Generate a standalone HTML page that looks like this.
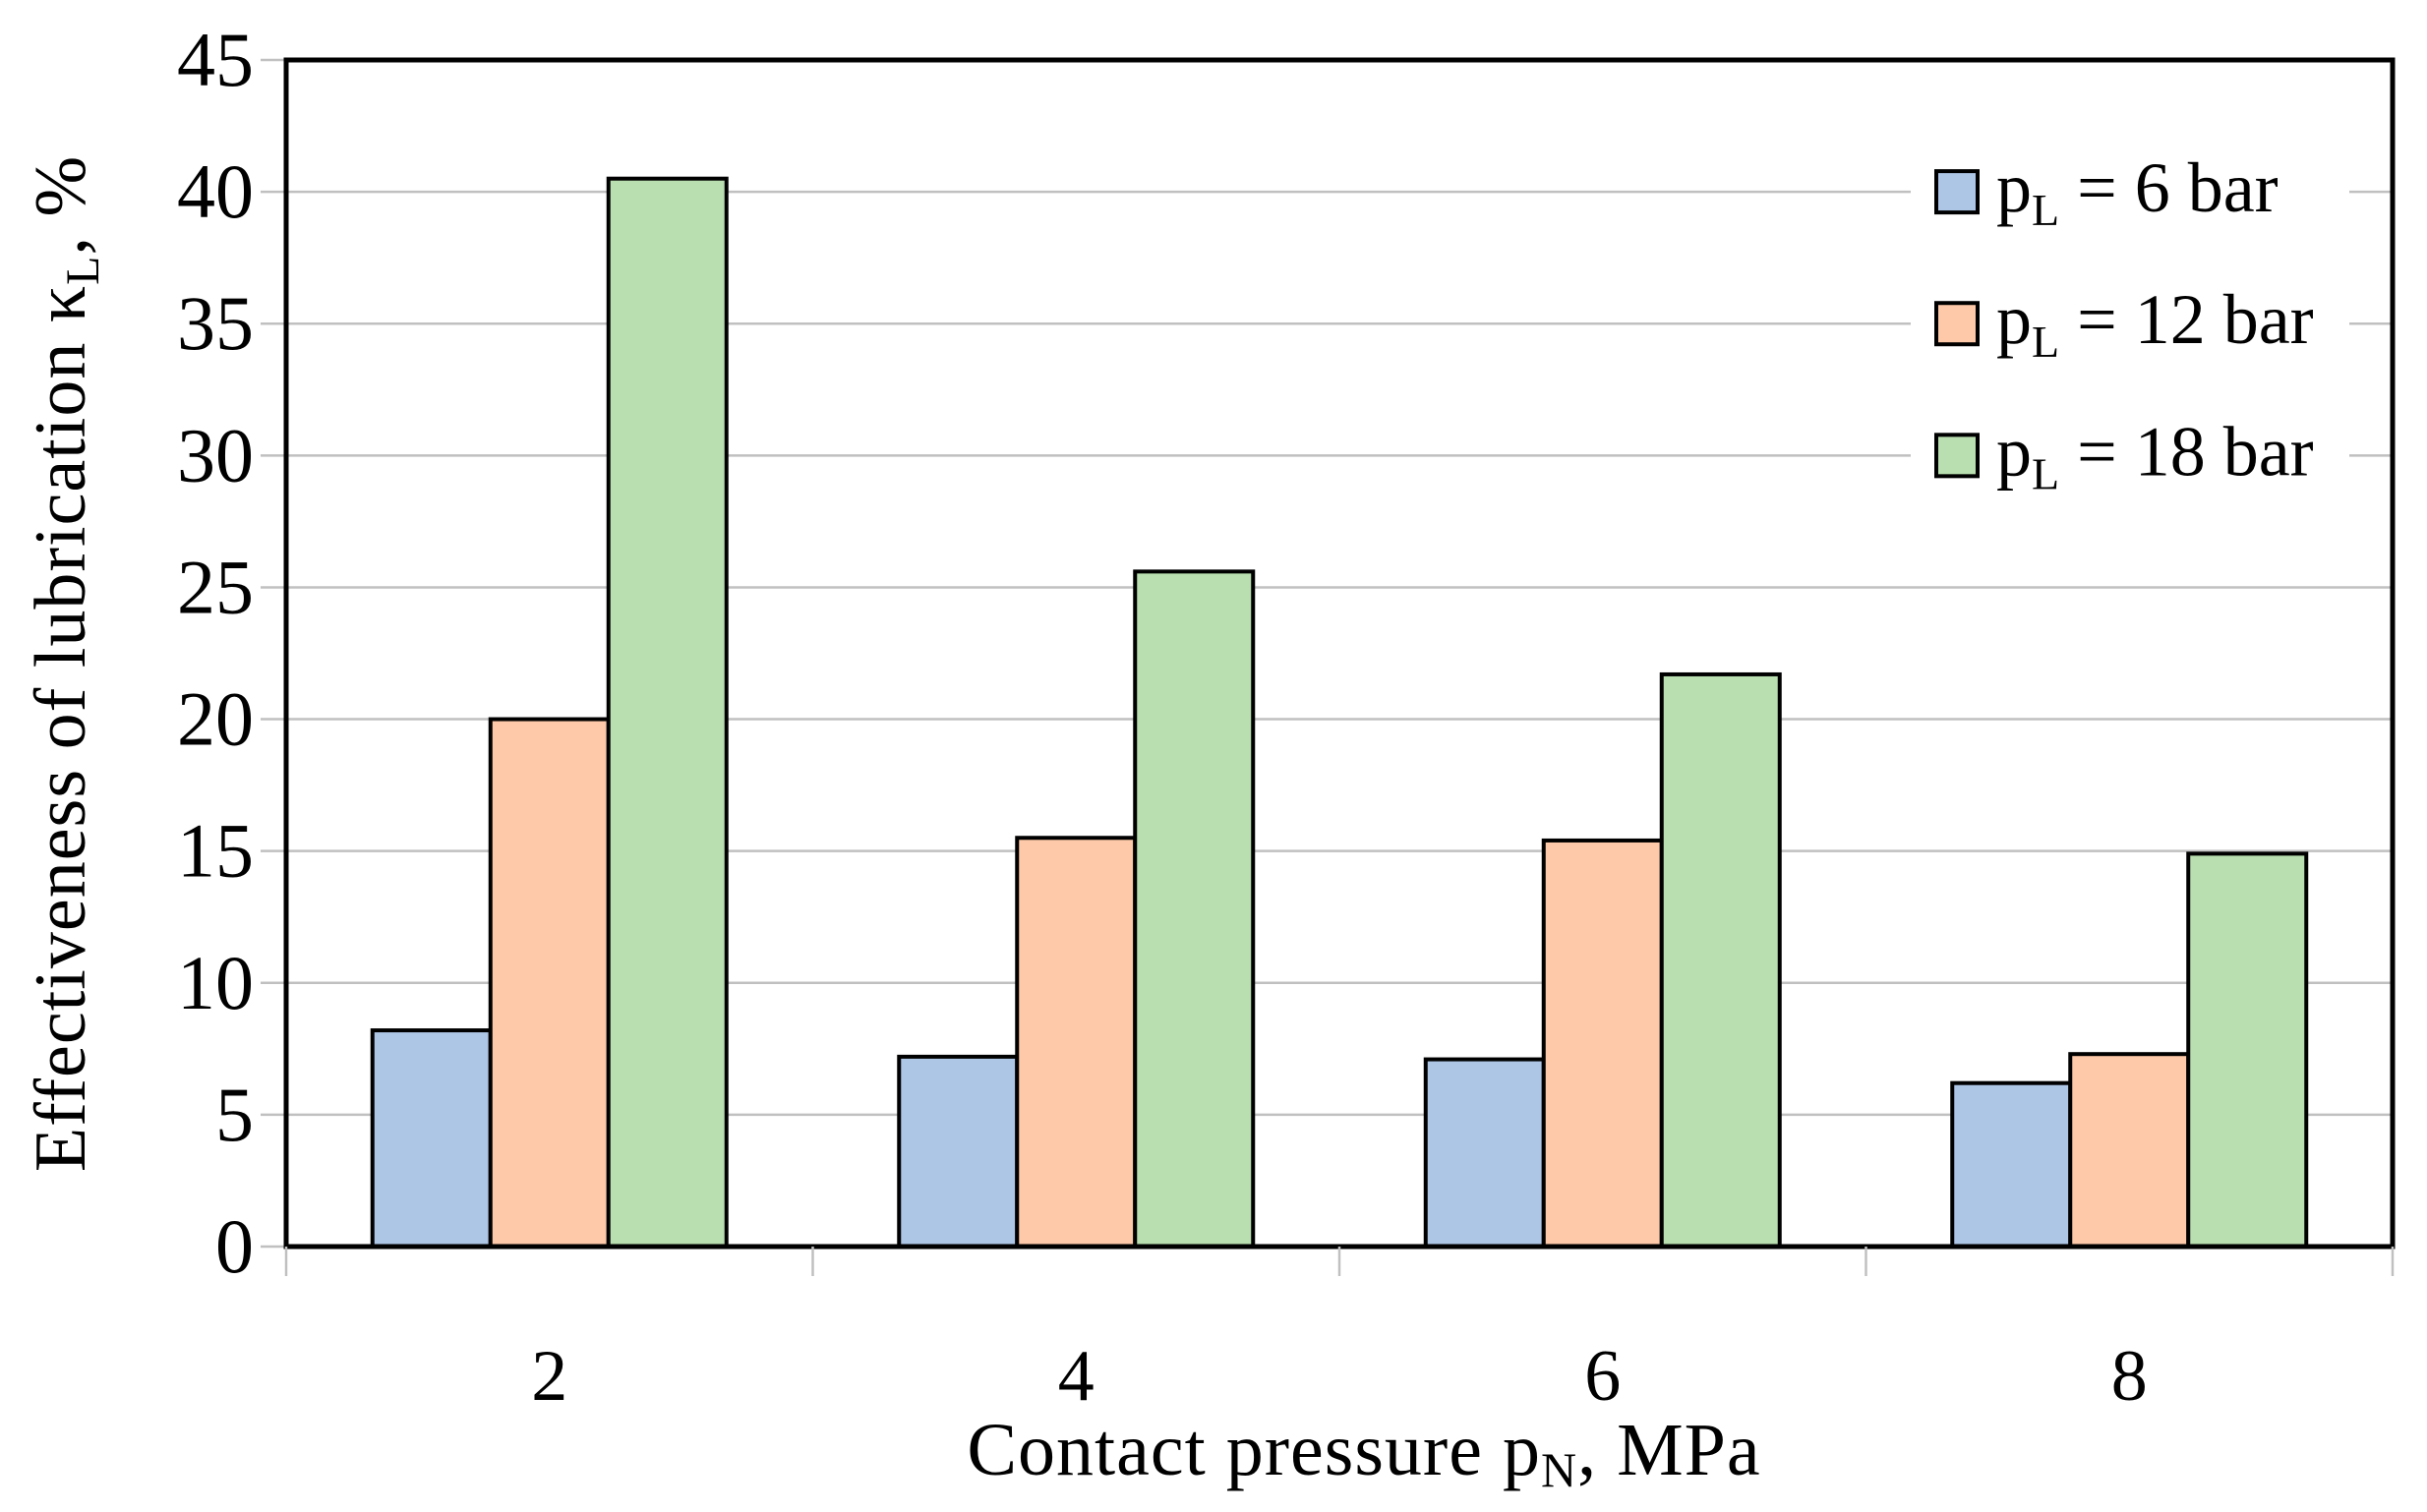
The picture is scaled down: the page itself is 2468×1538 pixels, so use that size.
<!DOCTYPE html>
<html><head><meta charset="utf-8"><style>
html,body{margin:0;padding:0;background:#fff;}
svg{display:block;font-family:"Liberation Serif",serif;}
</style></head><body>
<svg id="chart" width="2468" height="1538" viewBox="0 0 2468 1538">
<g id="grid"></g>
<g id="bars"></g>
<rect x="291" y="61" width="2142" height="1207" fill="none" stroke="#000" stroke-width="5"/>
<g id="ticks"></g>
<g id="legend"></g>
<text x="86" y="675" transform="rotate(-90 86 675)" text-anchor="middle" font-size="74" letter-spacing="1">Effectiveness of lubrication κ<tspan font-size="48" dy="14">L</tspan><tspan dy="-14">, %</tspan></text>
<text x="1387" y="1500" text-anchor="middle" font-size="76" letter-spacing="1">Contact pressure p<tspan font-size="50" dy="12">N</tspan><tspan dy="-12">, MPa</tspan></text>
</svg>
<script>
const categories = ["2","4","6","8"];
const seriesNames = ["6","12","18"];
const s6 = [8.2, 7.2, 7.1, 6.2];
const s12 = [20.0, 15.5, 15.4, 7.3];
const s18 = [40.5, 25.6, 21.7, 14.9];
const yTicks = [0,5,10,15,20,25,30,35,40,45];
const colors = ["#adc6e6","#fdc9a8","#b9dfb0"];
const NS = "http://www.w3.org/2000/svg";
const L=291, R=2433, T=61, B=1268, YMAX=45;
const y = v => B - v/YMAX*(B-T);
const cw = (R-L)/categories.length;
const bw = 120;
const x = (ci, si) => L + ci*cw + (cw-3*bw)/2 + si*bw;
const grid = document.getElementById('grid');
const bars = document.getElementById('bars');
const ticks = document.getElementById('ticks');
const legend = document.getElementById('legend');
function mk(tag, attrs, parent){const e=document.createElementNS(NS,tag);for(const k in attrs)e.setAttribute(k,attrs[k]);parent.appendChild(e);return e;}
yTicks.forEach(v=>{
  const g = mk('line',{x1:265,x2:R,y1:y(v),y2:y(v),stroke:'#c0c0c0','stroke-width':2.5},grid);
  
  
  const t = mk('text',{x:258,y:y(v)+26,'text-anchor':'end','font-size':78},ticks);
  t.textContent = v;
  
  
});
for(let i=0;i<=categories.length;i++){
  const tk = mk('line',{x1:L+i*cw,x2:L+i*cw,y1:B,y2:B+30,stroke:'#c0c0c0','stroke-width':2.5},ticks);
  
  
}
categories.forEach((c,ci)=>{
  const t = mk('text',{x:L+ci*cw+cw/2,y:1424,'text-anchor':'middle','font-size':74},ticks);
  t.textContent = c;
  
  
  [s6,s12,s18].forEach((s,si)=>{
    const r = mk('rect',{x:x(ci,si),y:y(s[ci]),width:bw,height:B-y(s[ci]),fill:colors[si],stroke:'#000','stroke-width':4},bars);
    
    
  });
});
mk('rect',{x:1943,y:160,width:446,height:340,fill:'#fff'},legend);
seriesNames.forEach((n,i)=>{
  const cy = y(40-5*i);
  const b = mk('rect',{x:1969,y:cy-21,width:42,height:42,fill:colors[i],stroke:'#000','stroke-width':4},legend);
  
  
  const t = mk('text',{x:2030,y:cy+20,'font-size':72},legend);
  t.innerHTML = 'p<tspan font-size="46" dy="14">L</tspan><tspan dy="-14"> = '+n+' bar</tspan>';
  
  
});
</script>
</body></html>
